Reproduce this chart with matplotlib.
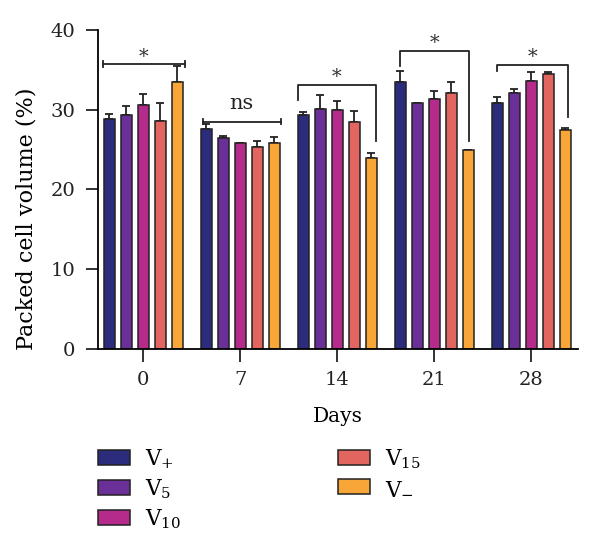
import numpy as np
import matplotlib
matplotlib.use('Agg')
import matplotlib.pyplot as plt

plt.rcParams['font.family'] = ['DejaVu Serif']
plt.rcParams['mathtext.fontset'] = 'dejavuserif'

# ----------------------------------------------------------------------------
# data

days = ['0', '7', '14', '21', '28']
groups = [r'V$_\mathregular{+}$', r'V$_\mathregular{5}$', r'V$_\mathregular{10}$',
          r'V$_\mathregular{15}$', r'V$_\mathregular{-}$']
colors = ['#2b2c7c', '#6b3097', '#b42b8b', '#e3655f', '#f8a637']

v_plus = [28.8, 27.6, 29.3, 33.4, 30.8]
v_5    = [29.3, 26.4, 30.1, 30.8, 32.1]
v_10   = [30.6, 25.8, 29.9, 31.3, 33.6]
v_15   = [28.6, 25.3, 28.4, 32.1, 34.4]
v_minus = [33.4, 25.8, 23.9, 24.9, 27.4]

err_plus = [0.7, 0.6, 0.4, 1.4, 0.8]
err_5    = [1.2, 0.3, 1.7, 0.0, 0.5]
err_10   = [1.4, 0.0, 1.2, 1.0, 1.1]
err_15   = [2.2, 0.7, 1.4, 1.4, 0.3]
err_minus = [2.0, 0.7, 0.6, 0.0, 0.3]

values = [v_plus, v_5, v_10, v_15, v_minus]
errors = [err_plus, err_5, err_10, err_15, err_minus]

# significance brackets: (label, x0, x1, y, left drop, right drop, caps)
brackets = [
   ('*',  -0.42, 0.43, 35.7, None, None, True),
   ('ns',  0.61, 1.42, 28.5, None, None, True),
   ('*',   1.59, 2.40, 33.1, 31.2, 26.0, False),
   ('*',   2.65, 3.36, 37.4, 35.5, 26.0, False),
   ('*',   3.65, 4.38, 35.6, 34.8, 29.1, False),
]

# ----------------------------------------------------------------------------

fig = plt.figure(figsize=(6.0, 5.52), dpi=100)
ax = fig.add_axes([0.163, 0.368, 0.8, 0.578])

x = np.arange(len(days))
step = 0.175
width = 0.11
handles = []
for i, (vals, errs) in enumerate(zip(values, errors)):
   pos = x + (i - 2) * step
   b = ax.bar(pos, vals, width, color=colors[i], edgecolor='#222222',
              linewidth=1.1, label=groups[i], zorder=2)
   handles.append(b)
   ax.errorbar(pos, vals, yerr=[np.zeros(len(errs)), errs], fmt='none',
               ecolor='#222222', elinewidth=1.3, capsize=3, capthick=1.3, zorder=1)

for lab, x0, x1, y, yl, yr, caps in brackets:
   if caps:
      ax.plot([x0, x1], [y, y], color='#222222', lw=1.3)
      ax.plot([x0, x0], [y - 0.35, y + 0.35], color='#222222', lw=1.3)
      ax.plot([x1, x1], [y - 0.35, y + 0.35], color='#222222', lw=1.3)
   else:
      ax.plot([x0, x0, x1, x1], [yl, y, y, yr], color='#222222', lw=1.3)
   if lab == 'ns':
      ax.text((x0 + x1) / 2, y + 1.1, lab, ha='center', va='bottom',
              fontsize=15, color='#222222')
   else:
      ax.text((x0 + x1) / 2, y - 0.2, lab, ha='center', va='bottom',
              fontsize=14, color='#333333')

ax.set_xlim(-0.47, 4.48)
ax.set_ylim(0, 40)
ax.set_yticks([0, 10, 20, 30, 40])
ax.set_xticks(x)
ax.set_xticklabels(days)
ax.spines['top'].set_visible(False)
ax.spines['right'].set_visible(False)
ax.spines['left'].set_linewidth(1.3)
ax.spines['bottom'].set_linewidth(1.3)
ax.tick_params(width=1.3, length=9, pad=7, labelsize=14, colors='#222222')
ax.set_ylabel('Packed cell volume (%)', fontsize=16)
ax.yaxis.set_label_coords(-0.125, 0.408)
ax.set_xlabel('Days', fontsize=14.5)
ax.xaxis.set_label_coords(0.5, -0.182)

leg_kw = dict(frameon=False, fontsize=15.5, handlelength=1.5, handleheight=0.7,
              handletextpad=0.7, labelspacing=0.3, borderpad=0, borderaxespad=0)
leg1 = fig.legend(handles=handles[:3], loc='upper left',
                  bbox_to_anchor=(0.163, 0.19), **leg_kw)
leg2 = fig.legend(handles=handles[3:], loc='upper left',
                  bbox_to_anchor=(0.563, 0.19), **leg_kw)

fig.savefig('out.png', dpi=100)
